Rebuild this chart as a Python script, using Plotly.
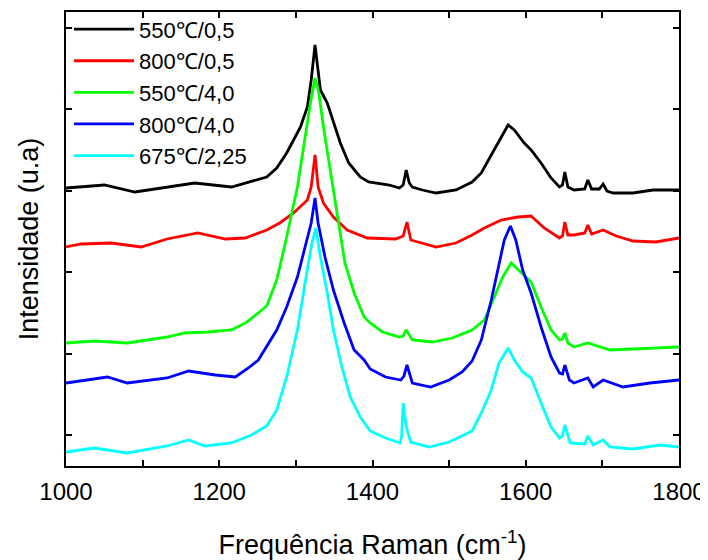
import plotly.graph_objects as go

# Wavenumber (cm-1) and intensity (arbitrary units, stacked offsets)
wn_550_05 = [1000, 1050, 1090, 1130, 1168, 1216, 1262, 1275, 1288, 1297, 1306, 1315, 1320, 1325, 1328, 1332,
             1341, 1349, 1358, 1369, 1384, 1395, 1422, 1435, 1440, 1444, 1448, 1452, 1465, 1483, 1509, 1530,
             1542, 1555, 1568, 1577, 1585, 1598, 1607, 1620, 1633, 1644, 1648, 1651, 1655, 1663, 1677, 1681,
             1686, 1696, 1701, 1706, 1714, 1740, 1766, 1800]
int_550_05 = [278, 281, 274, 279, 283, 279, 289, 298, 313, 326, 339, 359, 386, 421, 403, 376,
              363, 343, 323, 303, 289, 284, 281, 278, 281, 296, 283, 279, 276, 273, 276, 284,
              293, 311, 329, 341, 336, 323, 316, 303, 288, 279, 281, 294, 279, 276, 277, 286,
              277, 277, 282, 275, 273, 273, 276, 276]

wn_800_05 = [1000, 1020, 1059, 1098, 1132, 1172, 1208, 1234, 1262, 1279, 1297, 1315, 1320, 1325, 1329, 1336,
             1349, 1367, 1393, 1430, 1440, 1445, 1450, 1483, 1509, 1530, 1546, 1568, 1590, 1607, 1624, 1644,
             1648, 1651, 1655, 1663, 1677, 1681, 1686, 1701, 1718, 1740, 1770, 1800]
int_800_05 = [219, 222, 223, 219, 227, 233, 227, 228, 236, 243, 253, 266, 279, 311, 279, 263,
              249, 236, 228, 227, 230, 244, 226, 219, 223, 231, 238, 246, 249, 250, 238, 228,
              230, 244, 231, 231, 233, 241, 232, 236, 230, 225, 224, 228]

wn_550_40 = [1000, 1037, 1080, 1132, 1155, 1185, 1216, 1234, 1251, 1262, 1275, 1288, 1302, 1310, 1319, 1325,
             1330, 1336, 1345, 1354, 1364, 1376, 1389, 1397, 1413, 1435, 1440, 1444, 1452, 1478, 1504, 1530,
             1546, 1559, 1570, 1581, 1594, 1607, 1620, 1633, 1644, 1648, 1651, 1655, 1663, 1681, 1710, 1749,
             1800]
int_550_40 = [123, 125, 123, 129, 133, 134, 136, 143, 153, 160, 186, 229, 279, 319, 363, 388,
              373, 339, 296, 249, 203, 173, 149, 143, 134, 129, 130, 136, 126, 124, 128, 136,
              146, 169, 189, 203, 193, 184, 159, 136, 126, 127, 133, 123, 119, 123, 116, 117,
              119]

wn_800_40 = [1000, 1028, 1054, 1080, 1132, 1160, 1195, 1221, 1238, 1251, 1262, 1275, 1288, 1302, 1312, 1320,
             1325, 1329, 1338, 1349, 1363, 1376, 1389, 1397, 1417, 1437, 1441, 1445, 1452, 1476, 1500, 1517,
             1530, 1542, 1555, 1564, 1572, 1580, 1587, 1596, 1607, 1620, 1633, 1644, 1648, 1651, 1657, 1663,
             1681, 1688, 1701, 1727, 1762, 1800]
int_800_40 = [83, 86, 89, 83, 88, 95, 91, 89, 98, 106, 120, 136, 159, 189, 219, 243,
              268, 243, 209, 176, 143, 116, 106, 97, 89, 86, 90, 101, 83, 79, 86, 94,
              105, 126, 166, 199, 226, 240, 226, 196, 173, 139, 109, 93, 92, 101, 86, 83,
              88, 79, 86, 79, 83, 86]

wn_675_225 = [1000, 1037, 1080, 1132, 1160, 1181, 1216, 1242, 1262, 1275, 1288, 1302, 1312, 1321, 1326, 1332,
              1341, 1349, 1360, 1371, 1384, 1397, 1417, 1436, 1438, 1440, 1444, 1450, 1474, 1500, 1530, 1542,
              1555, 1565, 1577, 1585, 1596, 1607, 1620, 1633, 1644, 1648, 1651, 1658, 1677, 1681, 1688, 1701,
              1710, 1740, 1775, 1800]
int_675_225 = [14, 18, 13, 20, 26, 20, 23, 31, 40, 56, 89, 136, 183, 223, 238, 209,
               173, 136, 99, 69, 49, 35, 28, 23, 30, 63, 39, 24, 19, 24, 35, 53,
               76, 103, 118, 106, 94, 88, 63, 39, 28, 30, 41, 23, 22, 30, 21, 26,
               19, 17, 21, 19]

series_names = ["550\u2103/0,5", "800\u2103/0,5", "550\u2103/4,0", "800\u2103/4,0", "675\u2103/2,25"]
series_colors = ["#000000", "#FF0000", "#00FF00", "#0000FF", "#00FFFF"]
series_x = [wn_550_05, wn_800_05, wn_550_40, wn_800_40, wn_675_225]
series_y = [int_550_05, int_800_05, int_550_40, int_800_40, int_675_225]

y_tick_vals = [31, 112.4, 193.8, 275.2, 356.6, 438]

FONT = "Arial, 'Liberation Sans', sans-serif"

fig = go.Figure()
for name, color, xs, ys in zip(series_names, series_colors, series_x, series_y):
    fig.add_trace(go.Scatter(x=xs, y=ys, mode="lines", name=name,
                             line=dict(color=color, width=2.8)))

# page body has an 8px margin, so the figure is sized 700x552
fig.update_layout(
    width=700, height=552,
    margin=dict(l=58, r=29, t=4, b=94, autoexpand=False),
    paper_bgcolor="white", plot_bgcolor="white",
    font=dict(family=FONT, color="black"),
    showlegend=True,
    legend=dict(x=0.005, y=1.008, xanchor="left", yanchor="top",
                bgcolor="rgba(0,0,0,0)", font=dict(size=22, family=FONT),
                itemwidth=60, tracegroupgap=0),
    xaxis=dict(range=[1000, 1800], tick0=1000, dtick=200,
               ticks="inside", ticklen=6, tickwidth=2, tickcolor="black",
               minor=dict(dtick=100, ticks="inside", ticklen=6, tickwidth=2, tickcolor="black", showgrid=False),
               showline=True, linecolor="black", linewidth=2, mirror="ticks",
               showgrid=False, zeroline=False, automargin=False,
               tickfont=dict(size=24, family=FONT), ticklabelstandoff=3,
               title=dict(text="Frequência Raman (cm<sup>-1</sup>)", font=dict(size=27, family=FONT),
                          standoff=33)),
    yaxis=dict(range=[0, 454], tickmode="array", tickvals=y_tick_vals, showticklabels=False,
               ticks="inside", ticklen=6, tickwidth=2, tickcolor="black",
               showline=True, linecolor="black", linewidth=2, mirror="ticks",
               showgrid=False, zeroline=False, automargin=False,
               title=dict(text="Intensidade (u.a)", font=dict(size=27, family=FONT), standoff=18)),
)

fig.write_html("out.html")
